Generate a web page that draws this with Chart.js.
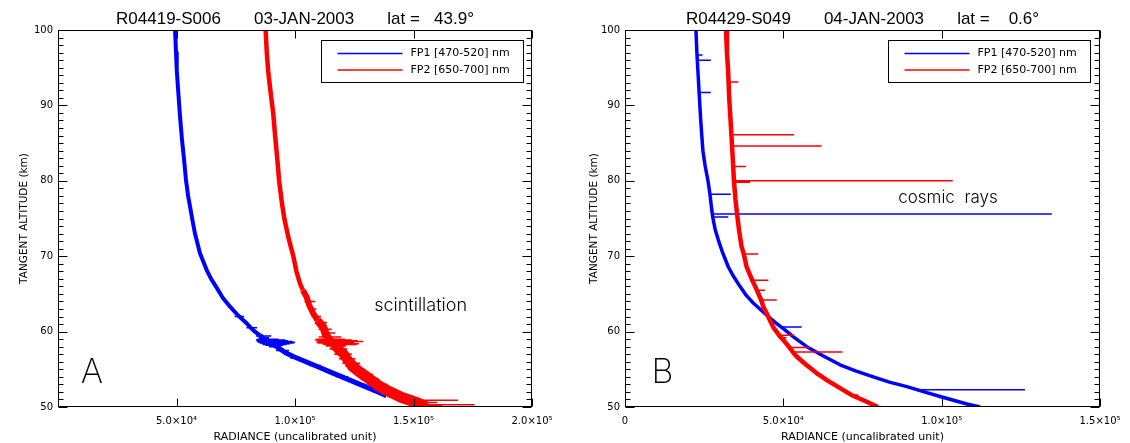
<!DOCTYPE html>
<html>
<head>
<meta charset="utf-8">
<script src="https://cdn.jsdelivr.net/npm/chart.js@4.4.1/dist/chart.umd.min.js"></script>
<style>
  html, body { margin: 0; padding: 0; background: #fff; }
  #wrap { position: relative; width: 1130px; height: 443px; }
  canvas { position: absolute; top: 0; }
  #panelA { left: 0; }
  #panelB { left: 565px; }
</style>
</head>
<body>
<div id="wrap">
  <canvas id="panelA" width="565" height="443"></canvas>
  <canvas id="panelB" width="565" height="443"></canvas>
</div>
<script>
// every point is [altitude km, radiance]; spikes are [altitude, from radiance, to radiance]

// --- panel A : R04419-S006, scintillation ---
const fp1CurveA = [
  [100, 49400], [97, 49800], [94.7, 50100], [92, 50700], [88.5, 51500], [85.5, 52300],
  [82.8, 53200], [80.1, 54000], [78, 54900], [76.6, 55700], [75, 56600], [73, 57800],
  [70.4, 59900], [68.2, 62700], [67, 64600], [65.8, 67000], [64.5, 69500], [63.3, 72600],
  [62.2, 75800], [61.1, 79600], [60.2, 82300], [59.5, 85200], [59.0, 87000], [58.5, 89500],
  [58.0, 92300], [57.2, 96000], [56.7, 99300], [56.0, 104600], [55.3, 109900], [54.5, 116000],
  [54.0, 119800], [53.4, 124400], [53.0, 127400], [52.5, 131200], [52.0, 135000], [51.5, 138600]
];
const fp1SpikesA = [
  [62.0, 74500, 78500], [60.5, 79500, 84000], [59.4, 83500, 90000], [59.2, 84800, 89000],
  [59.0, 84000, 93000], [58.9, 83500, 96000], [58.8, 83800, 97000], [58.7, 84000, 99000],
  [58.6, 84500, 100000], [58.5, 85000, 99500], [58.4, 86000, 98000], [58.3, 86500, 96500],
  [58.2, 87500, 95000], [58.0, 89000, 94000], [57.5, 92000, 97500], [56.5, 98000, 102500],
  [55.5, 106000, 111000], [54.0, 117500, 122500], [53.0, 125500, 130000], [52.0, 133000, 137500]
];

const fp2CurveA = [
  [100, 87600], [97, 88100], [94.5, 88700], [92, 89600], [89, 90800], [86, 91600],
  [83, 92500], [80, 93300], [77, 94500], [75, 95500], [72.5, 97200], [70, 99300],
  [68, 100600], [66.4, 102100], [65.5, 103300], [64.6, 104900], [63.5, 106000], [62.4, 107700],
  [61.5, 109500], [60.6, 111900], [59.5, 113200], [58.9, 114500], [58.3, 116500], [57.5, 118800],
  [57.1, 120400], [56.0, 122700], [55.3, 124600], [54.6, 127400], [54.0, 130200], [53.4, 132800],
  [52.7, 135900], [52.2, 138800], [51.8, 141500], [51.3, 144800], [50.9, 148500], [50.5, 152000],
  [50.0, 155600]
];
const fp2SpikesA = [
  [64.0, 104000, 108500], [63.0, 105500, 109000], [62.0, 107000, 111000], [61.2, 108500, 113500],
  [60.3, 110000, 115500], [59.8, 111000, 117000], [59.3, 110000, 119500], [59.0, 109000, 121000],
  [58.9, 108400, 124000], [58.8, 109500, 126500], [58.7, 110500, 128800], [58.6, 109000, 125000],
  [58.5, 109500, 122000], [58.4, 111500, 127000], [58.3, 112000, 126000], [58.1, 113000, 121500],
  [57.7, 114500, 122000], [57.0, 116500, 124000], [56.4, 118500, 125500], [55.8, 120000, 127500],
  [55.0, 122500, 129500], [54.3, 125500, 133000], [53.7, 128000, 135500], [53.0, 130500, 139000],
  [52.3, 133500, 142900], [51.9, 136500, 144000], [51.4, 139500, 148500], [50.9, 143500, 168800],
  [50.6, 146500, 160000], [50.3, 150000, 175800], [50.1, 153000, 162000]
];

// --- panel B : R04429-S049, cosmic rays ---
const fp1CurveB = [
  [100, 22400], [97, 22700], [94, 23100], [91, 23500], [88.1, 23900], [86.3, 24200],
  [84, 24600], [82, 25300], [80, 26200], [78.3, 26800], [76.5, 27300], [75.2, 27700],
  [73.5, 28500], [72.1, 29500], [70.5, 30800], [68.6, 32600], [67.3, 34300], [66.0, 36300],
  [64.8, 38300], [63.8, 40500], [62.2, 44700], [61.2, 47500], [60.4, 50000], [59.2, 53500],
  [58.0, 57400], [56.8, 62500], [55.6, 67900], [54.8, 72800], [54.0, 78400], [53.3, 83500],
  [52.7, 89000], [52.0, 94500], [51.4, 99500], [50.9, 103700], [50.4, 108000], [50.0, 112100]
];
const fp1SpikesB = [
  [96.7, 22700, 24500], [96.0, 22800, 27100], [91.7, 23600, 27100], [78.2, 26800, 33400],
  [75.6, 27600, 134800], [75.2, 27700, 32600], [60.6, 49400, 55800], [52.3, 92100, 126300]
];

const fp2CurveB = [
  [100, 31900], [97, 32200], [94.3, 32600], [91, 32900], [89, 33200], [86.1, 33600],
  [83.2, 34000], [80, 34400], [77.5, 34900], [75.2, 35500], [73.2, 36100], [71.3, 36800],
  [70.3, 37500], [68.6, 38400], [66.8, 40200], [66.0, 41100], [64.2, 43000], [63.3, 43700],
  [62.0, 45200], [60.6, 46800], [59.5, 48700], [58.9, 50000], [57.9, 51900], [57.3, 53000],
  [56.7, 54200], [55.6, 57200], [54.5, 60500], [53.5, 64000], [52.5, 67900], [51.6, 71500],
  [50.9, 75300], [50.0, 79900]
];
const fp2SpikesB = [
  [93.1, 32800, 35800], [86.1, 33600, 53400], [84.6, 33800, 62100], [81.9, 34200, 38200],
  [80.0, 34400, 103500], [79.8, 34400, 39500], [70.3, 37500, 42100], [66.8, 40200, 45300],
  [65.5, 41700, 44200], [64.2, 43000, 47900], [59.5, 48700, 53400], [59.2, 49200, 51000],
  [57.9, 51900, 58400], [57.3, 53000, 68700], [51.6, 71500, 73700]
];

const xLabelsA = ['', '5.0×10⁴', '1.0×10⁵', '1.5×10⁵', '2.0×10⁵'];
const xLabelsB = ['0', '5.0×10⁴', '1.0×10⁵', '1.5×10⁵'];
const seriesNames = ['FP1 [470-520] nm', 'FP2 [650-700] nm'];

const BLUE = '#0000ff';
const RED = '#ff0000';
const FONT = 'DejaVu Sans';

function toPoints(pairs) {
  return pairs.map(([alt, rad]) => ({ x: rad, y: alt }));
}

// each spike is a short horizontal segment, separated by a null gap
function spikePoints(spikes) {
  const pts = [];
  spikes.forEach(([alt, from, to]) => {
    pts.push({ x: from, y: alt }, { x: to, y: alt }, { x: null, y: null });
  });
  return pts;
}

// line gets thicker where the noise band widens: [below altitude, width]
function bandWidth(steps, base) {
  return c => {
    let w = base;
    steps.forEach(([below, width]) => { if (c.p0.parsed.y <= below) w = width; });
    return w;
  };
}

// box, inward ticks on all four sides (IDL style)
const framePlugin = {
  id: 'frame',
  afterDatasetsDraw(chart) {
    const { ctx, chartArea: a, scales: { x, y } } = chart;
    const L = Math.round(a.left) + 0.5, R = Math.round(a.right) - 0.5;
    const T = Math.round(a.top) + 0.5, B = Math.round(a.bottom) - 0.5;
    ctx.save();
    ctx.strokeStyle = '#000';
    ctx.lineWidth = 1;
    ctx.strokeRect(L, T, R - L, B - T);
    ctx.beginPath();
    x.ticks.forEach(t => {
      const px = Math.round(x.getPixelForValue(t.value)) + 0.5;
      ctx.moveTo(px, B); ctx.lineTo(px, B - 8);
      ctx.moveTo(px, T); ctx.lineTo(px, T + 8);
    });
    for (let v = y.min; v <= y.max; v += 1) {
      const len = v % 10 === 0 ? 9 : 5;
      const py = Math.round(y.getPixelForValue(v)) + 0.5;
      ctx.moveTo(L, py); ctx.lineTo(L + len, py);
      ctx.moveTo(R, py); ctx.lineTo(R - len, py);
    }
    ctx.stroke();
    ctx.restore();
  }
};

const boxLegendPlugin = {
  id: 'boxLegend',
  afterDraw(chart, args, opts) {
    const { ctx, chartArea: a } = chart;
    const right = Math.round(a.right - opts.marginRight) + 0.5;
    const left = right - opts.width;
    const top = Math.round(a.top + opts.marginTop) + 0.5;
    ctx.save();
    ctx.strokeStyle = '#000';
    ctx.lineWidth = 1;
    ctx.strokeRect(left, top, opts.width, opts.height);
    ctx.font = '11px "' + FONT + '"';
    ctx.textBaseline = 'middle';
    ctx.fillStyle = '#000';
    chart.data.datasets.filter(d => d.label).forEach((d, i) => {
      const yy = top + 13 + i * 16.5;
      ctx.strokeStyle = d.borderColor;
      ctx.lineWidth = 1.5;
      ctx.beginPath();
      ctx.moveTo(left + 16, yy); ctx.lineTo(left + 81, yy);
      ctx.stroke();
      ctx.fillText(d.label, left + 89, yy);
    });
    ctx.restore();
  }
};

// free text placed in data coordinates
const notesPlugin = {
  id: 'notes',
  afterDraw(chart, args, opts) {
    const { ctx, scales: { x, y } } = chart;
    ctx.save();
    ctx.fillStyle = '#000';
    ctx.textAlign = 'center';
    ctx.textBaseline = 'middle';
    opts.items.forEach(n => {
      ctx.font = n.weight + ' ' + n.size + 'px Inter';
      ctx.fillText(n.text, x.getPixelForValue(n.x), y.getPixelForValue(n.y));
    });
    ctx.restore();
  }
};

function makePanel(id, p) {
  return new Chart(document.getElementById(id), {
    type: 'scatter',
    data: {
      datasets: [
        { label: seriesNames[0], data: toPoints(p.fp1), borderColor: BLUE, borderWidth: p.w1, order: 2,
          segment: { borderWidth: bandWidth(p.band1, p.w1) } },
        { label: seriesNames[1], data: toPoints(p.fp2), borderColor: RED, borderWidth: p.w2, order: 1,
          segment: { borderWidth: bandWidth(p.band2, p.w2) } },
        { data: spikePoints(p.fp1Spikes), borderColor: BLUE, borderWidth: 1.5, order: 2 },
        { data: spikePoints(p.fp2Spikes), borderColor: RED, borderWidth: 1.5, order: 1 }
      ].map(d => Object.assign(d, {
        showLine: true, pointRadius: 0, tension: 0, spanGaps: false,
        borderJoinStyle: 'round', borderCapStyle: 'butt'
      }))
    },
    options: {
      responsive: false,
      devicePixelRatio: 1,
      animation: false,
      events: [],
      layout: { padding: { left: 0, right: p.padRight, top: 0, bottom: 0 } },
      plugins: {
        legend: { display: false },
        tooltip: { enabled: false },
        title: {
          display: true,
          fullSize: false,
          text: p.title,
          color: '#000',
          font: { family: 'Liberation Sans', size: 17, weight: 'normal', lineHeight: '20px' },
          padding: { top: 9, bottom: 1 }
        },
        boxLegend: { width: 202, height: 42, marginRight: p.legendRight, marginTop: 10 },
        notes: { items: p.notes }
      },
      scales: {
        x: {
          type: 'linear',
          position: 'bottom',
          min: 0,
          max: p.xMax,
          grid: { display: false, drawTicks: false },
          border: { display: false },
          ticks: {
            stepSize: 50000,
            autoSkip: false,
            maxRotation: 0,
            padding: 8,
            color: '#000',
            font: { family: FONT, size: 10 },
            callback: (v, i) => p.xLabels[i]
          },
          title: {
            display: true,
            text: 'RADIANCE (uncalibrated unit)',
            color: '#000',
            font: { family: FONT, size: 11, lineHeight: 1 },
            padding: { top: 0, bottom: 0 }
          },
          afterFit: s => { s.height = 36; }
        },
        y: {
          type: 'linear',
          min: 50,
          max: 100,
          grid: { display: false, drawTicks: false },
          border: { display: false },
          ticks: {
            stepSize: 10,
            padding: 5,
            color: '#000',
            font: { family: FONT, size: 10 }
          },
          title: {
            display: true,
            text: 'TANGENT ALTITUDE (km)',
            color: '#000',
            font: { family: FONT, size: 10.5, lineHeight: 1 },
            padding: { top: p.yTitlePad, bottom: 0 }
          },
          afterFit: s => { s.width = p.yWidth; }
        }
      }
    },
    plugins: [framePlugin, boxLegendPlugin, notesPlugin]
  });
}

makePanel('panelA', {
  title: 'R04419-S006       03-JAN-2003       lat =   43.9°',
  fp1: fp1CurveA, fp2: fp2CurveA, fp1Spikes: fp1SpikesA, fp2Spikes: fp2SpikesA,
  w1: 4, band1: [[60, 5]],
  w2: 4.5, band2: [[66, 6], [62, 8], [58.5, 10], [56, 11]],
  xMax: 200000, xLabels: xLabelsA,
  yWidth: 58, padRight: 33, yTitlePad: 19, legendRight: 9,
  notes: [
    { text: 'scintillation', x: 153000, y: 63.5, size: 18, weight: 300 },
    { text: 'A', x: 14300, y: 54.5, size: 34, weight: 200 }
  ]
});

makePanel('panelB', {
  title: 'R04429-S049       04-JAN-2003       lat =    0.6°',
  fp1: fp1CurveB, fp2: fp2CurveB, fp1Spikes: fp1SpikesB, fp2Spikes: fp2SpikesB,
  w1: 3.5, band1: [],
  w2: 4.5, band2: [],
  xMax: 150000, xLabels: xLabelsB,
  yWidth: 60, padRight: 30, yTitlePad: 24, legendRight: 10,
  notes: [
    { text: 'cosmic  rays', x: 102000, y: 77.7, size: 17, weight: 300 },
    { text: 'B', x: 11800, y: 54.5, size: 34, weight: 200 }
  ]
});
</script>
</body>
</html>
